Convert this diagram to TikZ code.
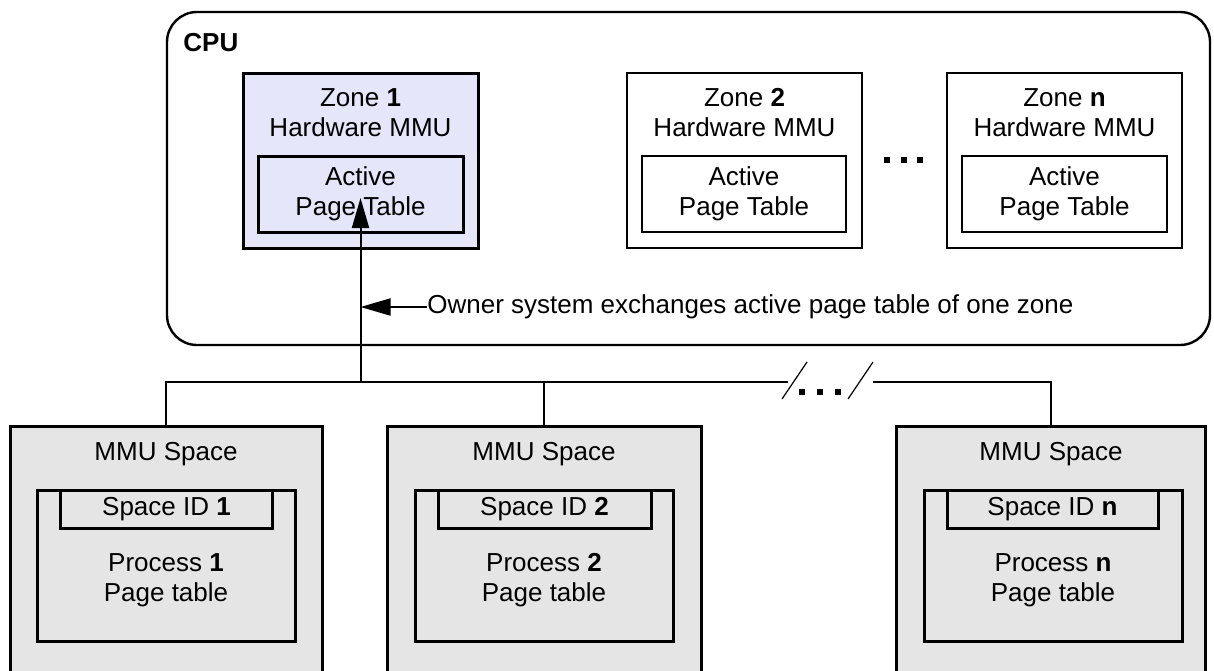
\documentclass[tikz,border=0pt]{standalone}
\usepackage{fontspec}
\setmainfont{Liberation Sans}
\usetikzlibrary{arrows.meta}
\usetikzlibrary{positioning}
\definecolor{zonefill}{RGB}{230,230,250}
\definecolor{spacefill}{RGB}{229,229,229}
\tikzset{box/.style = {draw, rectangle, inner sep=0, line width=1.5pt}}
\tikzset{thinbox/.style = {draw, rectangle, inner sep=0, line width=0.6pt}}
\tikzset{txt/.style = {align=center, inner sep=0, font=\fontsize{13}{15}\selectfont}}
\tikzset{wire/.style = {line width=1pt}}
\tikzset{tip/.style = {-{Triangle[length=15pt,width=8.5pt]}, line width=1pt}}
\tikzset{dot/.style = {fill, rectangle, inner sep=0, minimum size=3pt}}

\begin{document}
\begin{tikzpicture}[x=0.5pt,y=-0.5pt]
        \clip (0,0) rectangle (1214,670);
        % cpu
        \draw [line width=1.2pt, rounded corners=15pt] (167,12) rectangle (1210,345);
        \node [txt, font=\fontsize{13}{15}\selectfont\bfseries, anchor=west] (cpu) at (183,43) {CPU};
        % zones
        \node [box, fill=zonefill, minimum width=117.5pt, minimum height=87.5pt] (zone1) at (360.5,160.5) {};
        \node [txt] (zone1t) at (360.5,113) {Zone \textbf{1}\\Hardware MMU};
        \node [box, fill=zonefill, minimum width=102.5pt, minimum height=38pt, txt] (act1) at (360.5,194) {Active\\Page Table};
        \node [thinbox, minimum width=117.5pt, minimum height=87.5pt] (zone2) at (744.5,160.5) {};
        \node [txt] (zone2t) at (744.5,113) {Zone \textbf{2}\\Hardware MMU};
        \node [thinbox, minimum width=102pt, minimum height=38pt, txt] (act2) at (744,194) {Active\\Page Table};
        \node [thinbox, minimum width=117.5pt, minimum height=87.5pt] (zonen) at (1064.5,160.5) {};
        \node [txt] (zonent) at (1064.5,113) {Zone \textbf{n}\\Hardware MMU};
        \node [thinbox, minimum width=102.5pt, minimum height=38pt, txt] (actn) at (1064.5,194) {Active\\Page Table};
        \node [dot] (zd1) at (887,160) {};
        \node [dot] (zd2) at (903.5,160) {};
        \node [dot] (zd3) at (920,160) {};
        % mmu spaces
        \node [box, fill=spacefill, minimum width=156pt, minimum height=137pt] (sp1) at (166,563) {};
        \node [txt] (sp1t) at (166,454) {MMU Space};
        \node [box, minimum width=129pt, minimum height=75.5pt] (pt1) at (166,565.5) {};
        \node [box, minimum width=106pt, minimum height=19pt, txt] (id1) at (166.5,509) {Space ID \textbf{1}};
        \node [txt] (pt1t) at (166,580) {Process \textbf{1}\\Page table};
        \node [box, fill=spacefill, minimum width=157pt, minimum height=137pt] (sp2) at (544,563) {};
        \node [txt] (sp2t) at (544,454) {MMU Space};
        \node [box, minimum width=129pt, minimum height=75.5pt] (pt2) at (544,565.5) {};
        \node [box, minimum width=106.5pt, minimum height=19pt, txt] (id2) at (544.5,509) {Space ID \textbf{2}};
        \node [txt] (pt2t) at (544,580) {Process \textbf{2}\\Page table};
        \node [box, fill=spacefill, minimum width=154.5pt, minimum height=137pt] (spn) at (1051,563) {};
        \node [txt] (spnt) at (1051,454) {MMU Space};
        \node [box, minimum width=129pt, minimum height=75.5pt] (ptn) at (1053,565.5) {};
        \node [box, minimum width=105.5pt, minimum height=19pt, txt] (idn) at (1052.5,509) {Space ID \textbf{n}};
        \node [txt] (ptnt) at (1053,580) {Process \textbf{n}\\Page table};
        % bus with break
        \coordinate (brk1) at (788,382);
        \coordinate (brk2) at (873,382);
        \draw [wire] (sp1.north) |- (brk1);
        \draw [wire] (sp2.north) -- (sp2.north |- brk1);
        \draw [wire] (spn.north) |- (brk2);
        \draw [line width=0.6pt] (782,399) -- (807,362);
        \draw [line width=0.6pt] (848,399) -- (873,362);
        \node [dot] (bd1) at (802,392) {};
        \node [dot] (bd2) at (820,392) {};
        \node [dot] (bd3) at (838,392) {};
        % exchange arrows
        \coordinate (tipv) at (360.5,198);
        \draw [tip] (act1.south |- brk1) -- (tipv);
        \node [txt, anchor=west] (owner) at (427,307) {Owner system exchanges active page table of one zone};
        \draw [tip] (owner.west) -- (owner.west -| tipv);
    \end{tikzpicture}
\end{document}
